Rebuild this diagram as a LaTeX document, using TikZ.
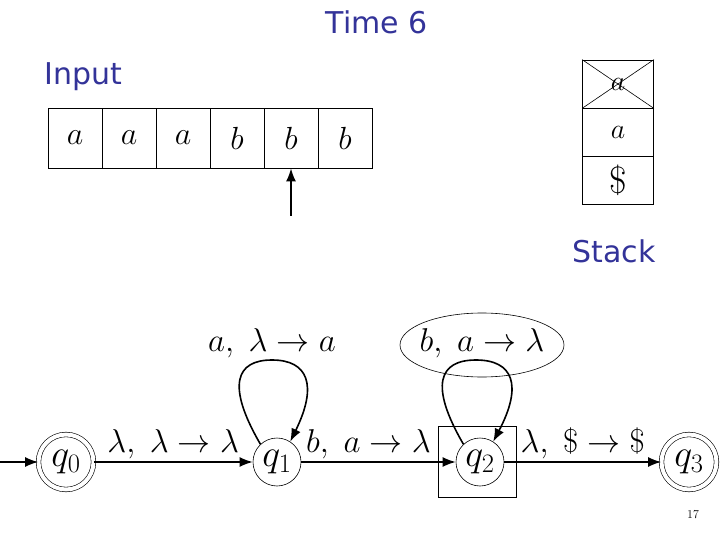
\RequirePackage{fix-cm}
\documentclass[tikz,border=0pt]{standalone}
\usepackage{fontspec}
\setsansfont{DejaVu Sans}
\usepackage{tikz}
\usetikzlibrary{arrows.meta,positioning,shapes.geometric}
\definecolor{slideblue}{RGB}{51,51,153}
\tikzset{
  slidetitle/.style={text=slideblue, font=\sffamily\fontsize{30}{36}\selectfont, inner sep=0pt},
  tapecell/.style={draw, line width=0.8pt, minimum width=54pt, minimum height=60pt, inner sep=0pt, font=\fontsize{32}{38}\selectfont},
  stackcell/.style={draw, line width=0.8pt, minimum width=71pt, minimum height=48pt, inner sep=0pt, font=\fontsize{28}{32}\selectfont},
  pdastate/.style={draw, circle, line width=0.6pt, minimum size=48pt, inner sep=0pt, font=\fontsize{38}{44}\selectfont},
  pdafinal/.style={pdastate, minimum size=55pt, double, double distance=4pt},
  pdaedge/.style={-{Latex[length=13pt,width=10pt]}, line width=1.6pt},
  pdalabel/.style={above, inner sep=2pt, font=\fontsize{33}{40}\selectfont},
  looplabel/.style={inner sep=0pt, font=\fontsize{33}{40}\selectfont},
  headarrow/.style={-{Latex[length=13pt,width=10pt]}, line width=1.6pt}
}
\begin{document}
\begin{tikzpicture}[x=1pt,y=-1pt]
\useasboundingbox (0,0) rectangle (720,540);
\node[slidetitle] (title) at (377,22) {Time 6};
\node[slidetitle] (inputtitle) at (83,77) {Input};
\node[slidetitle] (stacktitle) at (614,251) {Stack};
% input tape
\node[tapecell] (t1) at (75,138) {$a$};
\node[tapecell] (t2) at (129,138) {$a$};
\node[tapecell] (t3) at (183,138) {$a$};
\node[tapecell] (t4) at (237,138) {$b$};
\node[tapecell] (t5) at (291,138) {$b$};
\node[tapecell] (t6) at (345,138) {$b$};
\coordinate (head) at (291,216);
\draw[headarrow] (head) -- (t5.south);
% stack
\node[stackcell] (s1) at (618,84) {$a$};
\node[stackcell] (s2) at (618,132) {$a$};
\node[stackcell, font=\fontsize{38}{44}\selectfont] (s3) at (618,180) {\$};
\draw[line width=0.6pt] (s1.north west) -- (s1.south east);
\draw[line width=0.6pt] (s1.north east) -- (s1.south west);
% automaton
\node[pdafinal] (q0) at (66,462) {$q_0$};
\node[pdastate] (q1) at (277,462) {$q_1$};
\node[pdastate] (q2) at (480,462) {$q_2$};
\node[pdafinal] (q3) at (689,462) {$q_3$};
\node[draw, line width=0.8pt, minimum width=78pt, minimum height=71pt] (q2box) at (477,462) {};
\coordinate (start) at (0,462);
\draw[pdaedge] (start) -- (q0);
\draw[pdaedge] (q0) -- node[pdalabel] {$\lambda,\;\lambda\rightarrow\lambda$} (q1);
\draw[pdaedge] (q1) -- node[pdalabel, xshift=-10pt] {$b,\;a\rightarrow\lambda$} (q2);
\draw[pdaedge] (q2) -- node[pdalabel] {$\lambda,\;\$\rightarrow\$$} (q3);
\draw[pdaedge] (q1.133) .. controls (226,385) and (236,360) .. (272,360) .. controls (308,360) and (318,385) .. (q1.57);
\draw[pdaedge] (q2.133) .. controls (429,385) and (439,360) .. (476,360) .. controls (513,360) and (523,385) .. (q2.57);
\node[looplabel] (loop1) at (272,343) {$a,\;\lambda\rightarrow a$};
\node[looplabel] (loop2) at (482,343) {$b,\;a\rightarrow\lambda$};
\node[draw, ellipse, line width=0.6pt, minimum width=164pt, minimum height=64pt] (mark) at (482,345) {};
\node[font=\fontsize{12}{14}\selectfont] (pagenum) at (693,515) {17};
\end{tikzpicture}
\end{document}
